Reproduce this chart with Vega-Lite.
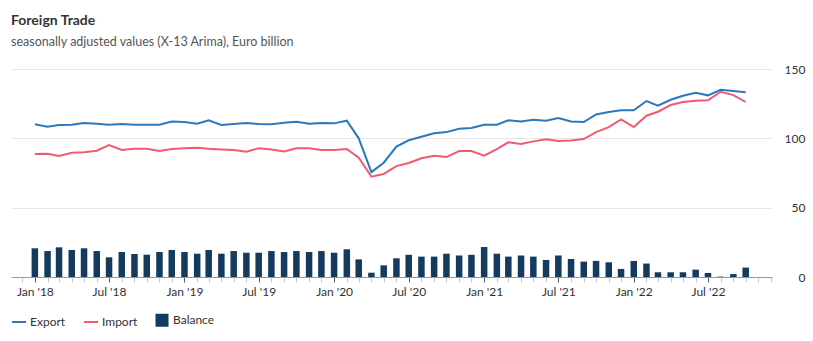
{
  "$schema": "https://vega.github.io/schema/vega-lite/v6.json",
  "width": 761,
  "height": 208,
  "autosize": {"type": "none"},
  "padding": {"left": 11, "top": 69, "right": 41, "bottom": 64},
  "background": "#ffffff",
  "config": {"view": {"stroke": null}, "font": "Lato"},
  "title": {
    "text": "Foreign Trade",
    "subtitle": "seasonally adjusted values (X-13 Arima), Euro billion",
    "anchor": "start",
    "frame": "group",
    "font": "Lato",
    "fontSize": 14,
    "fontWeight": "bold",
    "color": "#333333",
    "subtitleFont": "Lato",
    "subtitleFontSize": 12.5,
    "subtitleColor": "#555555",
    "subtitlePadding": 8,
    "offset": 15
  },
  "data": {
    "values": [
      {"date": "2018-01-01", "Export": 110.1, "Import": 88.7, "Balance": 20.7},
      {"date": "2018-02-01", "Export": 108.4, "Import": 88.9, "Balance": 18.7},
      {"date": "2018-03-01", "Export": 109.6, "Import": 87.2, "Balance": 21.4},
      {"date": "2018-04-01", "Export": 109.8, "Import": 89.6, "Balance": 19.5},
      {"date": "2018-05-01", "Export": 111.0, "Import": 89.9, "Balance": 20.7},
      {"date": "2018-06-01", "Export": 110.5, "Import": 91.1, "Balance": 18.7},
      {"date": "2018-07-01", "Export": 109.8, "Import": 95.2, "Balance": 14.2},
      {"date": "2018-08-01", "Export": 110.3, "Import": 91.6, "Balance": 18.0},
      {"date": "2018-09-01", "Export": 109.8, "Import": 92.5, "Balance": 16.6},
      {"date": "2018-10-01", "Export": 109.8, "Import": 92.5, "Balance": 16.1},
      {"date": "2018-11-01", "Export": 109.8, "Import": 90.8, "Balance": 18.0},
      {"date": "2018-12-01", "Export": 112.2, "Import": 92.3, "Balance": 19.5},
      {"date": "2019-01-01", "Export": 111.7, "Import": 92.8, "Balance": 18.0},
      {"date": "2019-02-01", "Export": 110.5, "Import": 93.2, "Balance": 16.8},
      {"date": "2019-03-01", "Export": 113.0, "Import": 92.5, "Balance": 19.5},
      {"date": "2019-04-01", "Export": 109.7, "Import": 92.0, "Balance": 16.8},
      {"date": "2019-05-01", "Export": 110.3, "Import": 91.6, "Balance": 18.7},
      {"date": "2019-06-01", "Export": 111.0, "Import": 90.4, "Balance": 17.5},
      {"date": "2019-07-01", "Export": 110.3, "Import": 92.8, "Balance": 17.5},
      {"date": "2019-08-01", "Export": 110.1, "Import": 92.0, "Balance": 18.7},
      {"date": "2019-09-01", "Export": 111.3, "Import": 90.6, "Balance": 18.0},
      {"date": "2019-10-01", "Export": 112.0, "Import": 92.8, "Balance": 18.7},
      {"date": "2019-11-01", "Export": 110.5, "Import": 92.8, "Balance": 18.0},
      {"date": "2019-12-01", "Export": 111.0, "Import": 91.6, "Balance": 18.7},
      {"date": "2020-01-01", "Export": 110.8, "Import": 91.6, "Balance": 17.5},
      {"date": "2020-02-01", "Export": 112.7, "Import": 92.3, "Balance": 20.0},
      {"date": "2020-03-01", "Export": 100.0, "Import": 86.0, "Balance": 12.7},
      {"date": "2020-04-01", "Export": 75.7, "Import": 72.3, "Balance": 3.1},
      {"date": "2020-05-01", "Export": 82.4, "Import": 74.3, "Balance": 8.4},
      {"date": "2020-06-01", "Export": 94.0, "Import": 80.0, "Balance": 13.5},
      {"date": "2020-07-01", "Export": 98.6, "Import": 82.2, "Balance": 16.0},
      {"date": "2020-08-01", "Export": 101.2, "Import": 85.6, "Balance": 14.7},
      {"date": "2020-09-01", "Export": 103.6, "Import": 87.5, "Balance": 14.7},
      {"date": "2020-10-01", "Export": 104.5, "Import": 86.5, "Balance": 16.8},
      {"date": "2020-11-01", "Export": 106.9, "Import": 90.8, "Balance": 15.5},
      {"date": "2020-12-01", "Export": 107.4, "Import": 90.8, "Balance": 16.0},
      {"date": "2021-01-01", "Export": 109.8, "Import": 87.5, "Balance": 21.6},
      {"date": "2021-02-01", "Export": 109.8, "Import": 92.3, "Balance": 16.8},
      {"date": "2021-03-01", "Export": 113.0, "Import": 97.1, "Balance": 14.7},
      {"date": "2021-04-01", "Export": 112.2, "Import": 95.9, "Balance": 15.5},
      {"date": "2021-05-01", "Export": 113.4, "Import": 97.8, "Balance": 14.7},
      {"date": "2021-06-01", "Export": 112.7, "Import": 99.3, "Balance": 12.3},
      {"date": "2021-07-01", "Export": 114.6, "Import": 98.0, "Balance": 15.5},
      {"date": "2021-08-01", "Export": 112.2, "Import": 98.5, "Balance": 13.0},
      {"date": "2021-09-01", "Export": 111.7, "Import": 99.5, "Balance": 11.1},
      {"date": "2021-10-01", "Export": 117.2, "Import": 104.5, "Balance": 11.6},
      {"date": "2021-11-01", "Export": 119.0, "Import": 108.1, "Balance": 10.6},
      {"date": "2021-12-01", "Export": 120.2, "Import": 113.7, "Balance": 5.8},
      {"date": "2022-01-01", "Export": 120.2, "Import": 108.1, "Balance": 11.6},
      {"date": "2022-02-01", "Export": 126.9, "Import": 116.3, "Balance": 9.7},
      {"date": "2022-03-01", "Export": 123.5, "Import": 119.2, "Balance": 3.4},
      {"date": "2022-04-01", "Export": 127.8, "Import": 124.0, "Balance": 3.4},
      {"date": "2022-05-01", "Export": 130.7, "Import": 126.2, "Balance": 3.4},
      {"date": "2022-06-01", "Export": 132.9, "Import": 127.1, "Balance": 5.3},
      {"date": "2022-07-01", "Export": 131.0, "Import": 127.4, "Balance": 2.9},
      {"date": "2022-08-01", "Export": 135.0, "Import": 133.6, "Balance": 0.3},
      {"date": "2022-09-01", "Export": 134.1, "Import": 131.2, "Balance": 2.1},
      {"date": "2022-10-01", "Export": 133.2, "Import": 126.2, "Balance": 6.8}
    ]
  },
  "transform": [{"fold": ["Export", "Import", "Balance"], "as": ["series", "value"]}],
  "encoding": {
    "x": {
      "field": "date",
      "type": "temporal",
      "scale": {
        "type": "utc",
        "domain": [
          {"year": 2017, "month": 11, "date": 16, "utc": true},
          {"year": 2022, "month": 11, "date": 22, "utc": true}
        ]
      },
      "axis": {
        "title": null,
        "grid": false,
        "tickCount": {"interval": "month", "step": 1},
        "labelExpr": "utcmonth(datum.value) % 6 == 0 ? utcFormat(datum.value, \"%b '%y\") : ''",
        "labelOverlap": false,
        "labelFlush": false,
        "labelFont": "Lato",
        "labelFontSize": 12,
        "labelColor": "#333333",
        "labelPadding": 4,
        "tickSize": 5,
        "tickColor": {"condition": {"test": "utcmonth(datum.value) % 6 == 0", "value": "#555555"}, "value": "#c8c8c8"},
        "domainColor": "#999999",
        "zindex": 1
      }
    },
    "y": {
      "field": "value",
      "type": "quantitative",
      "scale": {"domain": [0, 150], "nice": false},
      "axis": {
        "title": null,
        "orient": "right",
        "values": [0, 50, 100, 150],
        "grid": true,
        "gridColor": "#e6e6e6",
        "domain": false,
        "ticks": false,
        "labelAlign": "right",
        "labelPadding": 33,
        "labelFont": "Lato",
        "labelFontSize": 12,
        "labelColor": "#333333"
      }
    },
    "color": {
      "field": "series",
      "type": "nominal",
      "scale": {"domain": ["Export", "Import", "Balance"], "range": ["#2b78be", "#ee5b73", "#143a5d"]},
      "legend": {
        "title": null,
        "orient": "none",
        "legendX": 0,
        "legendY": 243,
        "direction": "horizontal",
        "labelFont": "Lato",
        "labelFontSize": 12,
        "labelColor": "#333333",
        "labelOffset": 3,
        "columnPadding": 14,
        "symbolSize": 196,
        "symbolStrokeWidth": 2,
        "encode": {
          "symbols": {
            "update": {
              "shape": {"signal": "datum.value === 'Balance' ? 'square' : 'stroke'"},
              "size": {"signal": "datum.value === 'Balance' ? 121 : 196"},
              "fill": {"signal": "datum.value === 'Balance' ? '#143a5d' : 'transparent'"},
              "stroke": {"signal": "datum.value === 'Balance' ? 'transparent' : (datum.value === 'Export' ? '#2b78be' : '#ee5b73')"},
              "strokeWidth": {"value": 2}
            }
          }
        }
      }
    }
  },
  "layer": [
    {
      "transform": [{"filter": "datum.series === 'Balance'"}],
      "mark": {"type": "bar", "width": 6.5}
    },
    {
      "transform": [{"filter": "datum.series !== 'Balance'"}],
      "mark": {"type": "line", "strokeWidth": 2}
    }
  ]
}
